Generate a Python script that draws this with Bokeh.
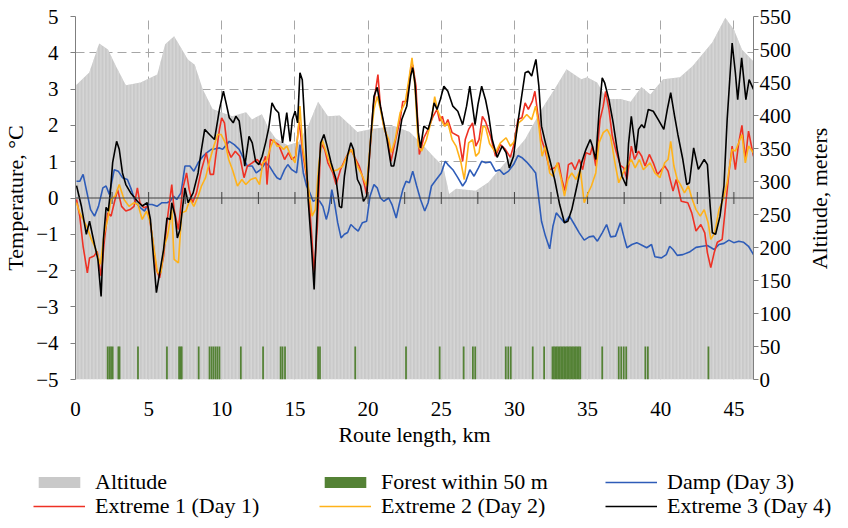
import math
from bokeh.plotting import figure
from bokeh.layouts import column, row
from bokeh.models import (Range1d, LinearAxis, FixedTicker, Span, Legend, LegendItem, Title)
from bokeh.embed import file_html
from bokeh.resources import INLINE

# ---------------- data ----------------
alt_km = [0.0, 0.94, 1.62, 2.22, 2.76, 3.44, 4.45, 5.59, 6.13, 6.74, 7.28, 7.68, 8.15, 8.69,
          9.37, 10.71, 11.66, 12.06, 12.74, 13.21, 13.68, 14.5, 15.23, 15.9, 16.58, 17.25,
          18.06, 19.27, 20.15, 21.77, 22.84, 23.79, 24.46, 25.13, 25.54, 26.01, 27.36, 28.23,
          29.58, 30.73, 31.87, 32.75, 33.56, 34.57, 34.97, 35.65, 36.32, 37.26, 37.94, 38.68,
          39.29, 40.16, 41.31, 42.18, 43.53, 44.41, 45.01, 45.55, 46.34]
alt_m = [445, 465, 509, 500, 475, 446, 450, 462, 508, 520, 500, 485, 477, 440,
         410, 399, 405, 394, 402, 380, 365, 355, 360, 384, 421, 399,
         400, 375, 379, 384, 375, 354, 338, 323, 281, 289, 286, 299,
         334, 364, 410, 440, 470, 455, 458, 450, 425, 425, 421, 443,
         432, 455, 458, 475, 511, 548, 530, 500, 482]

forest_km = [2.20, 2.32, 2.43, 2.54, 2.93, 3.01, 4.27, 6.25, 7.08, 7.18, 7.26, 8.42, 9.16,
             9.30, 9.43, 9.57, 9.70, 9.84, 11.30, 12.82, 14.02, 14.15, 14.32, 16.58, 16.71,
             19.12, 22.59, 24.89, 26.53, 27.16, 27.32, 29.41, 29.58, 29.75, 31.25, 32.03,
             32.60, 32.70, 32.80, 32.90, 33.00, 33.10, 33.20, 33.30, 33.40, 33.50, 33.60,
             33.70, 33.80, 33.90, 34.00, 34.10, 34.20, 34.30, 34.40, 34.50,
             36.00, 37.13, 37.30, 37.47, 37.64, 38.95, 39.12, 43.26]
forest_top = 50

damp_km = [0.07, 0.29, 0.52, 0.74, 1.03, 1.30, 1.57, 1.87, 2.09, 2.31, 2.65, 2.92, 3.21, 3.55,
           3.82, 4.11, 4.45, 4.72, 4.94, 5.24, 5.57, 5.91, 6.25, 6.47, 6.69, 6.92, 7.21, 7.48,
           7.82, 8.09, 8.38, 8.71, 8.98, 9.28, 9.50, 9.84, 10.06, 10.51, 10.85, 11.19, 11.52,
           11.75, 12.08, 12.35, 12.65, 12.99, 13.25, 13.54, 13.77, 14.00, 14.29, 14.51, 14.78,
           15.11, 15.34, 15.57, 15.79, 16.02, 16.24, 16.46, 16.69, 16.91, 17.14, 17.30, 17.52,
           17.70, 17.92, 18.15, 18.38, 18.60, 18.82, 19.05, 19.32, 19.61, 19.90, 20.13, 20.40,
           20.62, 20.84, 21.07, 21.41, 21.63, 21.92, 22.15, 22.37, 22.59, 22.82, 23.05, 23.32,
           23.58, 23.87, 24.10, 24.33, 24.66, 25.00, 25.27, 25.45, 25.79, 26.13, 26.46, 26.68,
           26.95, 27.24, 27.54, 27.76, 28.03, 28.37, 28.71, 28.98, 29.27, 29.60, 29.94, 30.24,
           30.55, 30.84, 31.18, 31.45, 31.67, 31.85, 32.12, 32.41, 32.63, 32.86, 33.15, 33.42,
           33.76, 34.10, 34.43, 34.77, 35.11, 35.40, 35.67, 36.00, 36.30, 36.57, 36.91, 37.24,
           37.47, 37.69, 38.03, 38.36, 38.75, 39.04, 39.37, 39.60, 40.05, 40.38, 40.61, 40.84,
           41.13, 41.51, 41.96, 42.41, 42.86, 43.19, 43.65, 43.98, 44.32, 44.66, 44.99, 45.33,
           45.67, 46.00, 46.34]
damp_t = [0.46, 0.46, 0.65, 0.23, -0.32, -0.50, -0.23, 0.28, 0.33, 0.10, 0.78, 0.74, 0.56, 0.51,
          0.23, -0.13, -0.27, -0.36, -0.18, -0.18, -0.23, -0.13, -0.13, -0.09, 0.05, -0.04, 0.14, 0.88,
          0.88, 0.74, 0.97, 1.15, 1.25, 1.34, 1.35, 1.38, 1.34, 1.56, 1.47, 1.34, 1.06,
          0.88, 0.88, 0.69, 0.78, 0.97, 0.88, 0.69, 0.56, 0.51, 0.78, 0.92, 0.78,
          0.69, 1.47, 0.69, 0.33, 0.14, -0.09, -0.04, -0.09, -0.23, -0.59, -0.36, 0.23,
          -0.13, -0.68, -1.10, -1.00, -0.95, -0.73, -0.82, -0.91, -0.68, -0.64, 0.05, 0.37,
          0.28, 0.00, -0.09, 0.00, -0.18, -0.55, -0.13, 0.23, 0.46, 0.42, 0.74, 0.33,
          -0.04, -0.36, -0.13, 0.33, 0.51, 0.69, 1.01, 0.92, 0.78, 0.56, 0.33, 0.46,
          0.78, 0.60, 0.83, 1.01, 0.97, 0.99, 0.74, 0.78, 0.65, 0.74, 0.92, 1.17,
          1.10, 0.99, 0.83, 0.69, -0.04, -0.64, -1.05, -1.40, -0.78, -0.41, -0.55, -0.68,
          -0.50, -0.73, -0.96, -1.16, -1.07, -1.05, -1.19, -0.96, -0.73, -1.07, -1.05, -0.68,
          -1.05, -1.37, -1.28, -1.23, -1.31, -1.37, -1.28, -1.62, -1.65, -1.56, -1.33, -1.42,
          -1.58, -1.56, -1.49, -1.36, -1.33, -1.31, -1.42, -1.28, -1.25, -1.16, -1.23, -1.19,
          -1.22, -1.33, -1.56]

ext1_km = [0.07, 0.29, 0.52, 0.81, 0.96, 1.26, 1.48, 1.75, 1.97, 2.20, 2.43, 2.65, 2.88, 3.15,
           3.44, 3.73, 4.00, 4.23, 4.40, 4.67, 4.94, 5.24, 5.53, 5.75, 6.02, 6.25, 6.42, 6.58,
           6.74, 7.03, 7.32, 7.59, 7.77, 8.00, 8.27, 8.61, 8.94, 9.21, 9.43, 9.62, 9.84, 9.99,
           10.18, 10.40, 10.63, 10.92, 11.23, 11.52, 11.75, 12.08, 12.42, 12.76, 12.99, 13.09,
           13.32, 13.54, 13.88, 14.06, 14.29, 14.56, 14.78, 15.05, 15.28, 15.57, 15.90, 16.13,
           16.31, 16.53, 16.76, 17.03, 17.25, 17.59, 17.81, 18.11, 18.42, 18.60, 18.82, 19.05,
           19.39, 19.61, 19.90, 20.13, 20.35, 20.67, 20.84, 21.07, 21.34, 21.56, 21.85, 22.19,
           22.37, 22.64, 22.91, 23.05, 23.27, 23.50, 23.81, 24.10, 24.44, 24.71, 24.89, 25.07,
           25.25, 25.45, 25.74, 26.19, 26.46, 26.64, 26.87, 27.14, 27.36, 27.58, 27.81, 28.03,
           28.37, 28.71, 29.04, 29.38, 29.72, 29.94, 30.24, 30.51, 30.73, 30.95, 31.22, 31.40,
           31.62, 31.85, 32.08, 32.41, 32.75, 33.02, 33.24, 33.47, 33.69, 33.92, 34.14, 34.43,
           34.66, 34.89, 35.18, 35.33, 35.56, 35.85, 36.07, 36.23, 36.46, 36.69, 36.97, 37.24,
           37.47, 37.69, 37.99, 38.21, 38.48, 38.70, 38.93, 39.22, 39.49, 39.78, 40.05, 40.27,
           40.50, 40.84, 41.06, 41.40, 41.85, 42.12, 42.41, 42.74, 43.01, 43.19, 43.42, 43.65,
           43.87, 44.20, 44.43, 44.66, 44.88, 45.10, 45.33, 45.55, 45.78, 46.00, 46.34]
ext1_t = [-0.04, -0.50, -1.33, -2.06, -1.65, -1.60, -1.47, -2.15, -1.19, -0.41, -0.50, -0.13, 0.23, -0.23,
          -0.36, -0.32, -0.23, 0.28, -0.13, -0.27, -0.23, -1.05, -1.97, -2.20, -1.60, -0.68, -0.13, 0.37,
          -0.32, -0.87, 0.23, 0.69, 0.23, -0.13, 0.14, 0.78, 1.25, 0.65, 0.65, 1.25, 1.89, 2.21,
          2.07, 1.34, 1.12, 1.29, 1.15, 0.56, 0.88, 0.97, 1.06, 0.88, 1.15, 0.37,
          1.61, 1.56, 1.47, 1.29, 1.06, 1.25, 1.06, 1.15, 2.10, 1.15, 0.33, -0.96,
          -2.06, -0.78, 1.52, 1.34, 0.97, 0.69, 0.37, 0.78, 1.06, 1.20, 1.34, 1.15,
          0.88, 0.60, 0.10, 1.34, 2.53, 3.40, 2.53, 1.98, 1.61, 1.01, 1.56, 2.16,
          2.66, 2.66, 3.53, 3.67, 3.08, 1.20, 1.66, 1.89, 2.25, 2.44, 2.12, 2.25,
          1.98, 2.16, 1.80, 1.70, 1.01, 1.61, 1.89, 2.07, 1.43, 1.61, 2.25, 2.10,
          1.70, 1.15, 1.47, 1.34, 1.12, 1.43, 2.16, 2.21, 2.62, 2.44, 2.66, 2.94,
          2.25, 1.61, 1.34, 0.78, 0.83, 0.97, 0.51, 0.19, 0.92, 0.97, 0.78, 1.06,
          0.78, 1.25, 1.20, 1.43, 0.88, 2.16, 2.53, 2.94, 2.44, 1.70, 1.25, 0.90,
          0.83, 0.51, 1.43, 1.06, 1.29, 1.15, 0.88, 1.20, 0.97, 0.65, 0.78, 0.88,
          0.74, 0.19, 0.51, -0.09, -0.13, -0.41, -0.91, -0.73, -0.96, -1.51, -1.92, -1.51,
          -1.22, -1.14, -0.23, 0.69, 1.43, 0.78, 1.52, 2.00, 1.06, 1.84, 1.15]

ext2_km = [0.07, 0.29, 0.52, 0.81, 1.08, 1.35, 1.70, 1.97, 2.20, 2.43, 2.70, 2.99, 3.32, 3.66,
           4.00, 4.27, 4.56, 4.85, 5.12, 5.34, 5.61, 5.84, 6.06, 6.29, 6.58, 6.74, 7.03, 7.26,
           7.55, 7.82, 8.09, 8.38, 8.61, 8.89, 9.16, 9.43, 9.72, 9.95, 10.24, 10.47, 10.73,
           11.07, 11.37, 11.64, 11.97, 12.31, 12.58, 12.80, 13.09, 13.32, 13.54, 13.77, 13.99,
           14.22, 14.44, 14.74, 15.01, 15.23, 15.34, 15.52, 15.79, 16.02, 16.17, 16.39, 16.64,
           16.85, 17.07, 17.30, 17.59, 17.92, 18.26, 18.55, 18.87, 19.27, 19.61, 19.90, 20.17,
           20.40, 20.62, 20.84, 21.11, 21.41, 21.58, 21.85, 22.19, 22.53, 22.82, 23.00, 23.20,
           23.43, 23.65, 23.99, 24.33, 24.55, 24.73, 25.00, 25.22, 25.45, 25.74, 26.01, 26.35,
           26.57, 26.87, 27.14, 27.36, 27.58, 27.85, 28.03, 28.30, 28.71, 29.04, 29.43, 29.72,
           30.01, 30.28, 30.55, 30.84, 31.18, 31.45, 31.67, 31.89, 32.12, 32.41, 32.63, 32.93,
           33.20, 33.42, 33.65, 33.92, 34.21, 34.50, 34.77, 35.04, 35.26, 35.56, 35.78, 36.07,
           36.34, 36.57, 36.91, 37.13, 37.42, 37.69, 37.99, 38.25, 38.54, 38.81, 39.27, 39.60,
           39.94, 40.27, 40.50, 40.68, 40.90, 41.13, 41.35, 41.62, 41.89, 42.12, 42.41, 42.70,
           42.97, 43.24, 43.42, 43.69, 43.98, 44.27, 44.54, 44.88, 45.10, 45.33, 45.55, 45.78,
           46.00, 46.34]
ext2_t = [-0.13, -0.41, -0.59, -0.82, -1.14, -1.37, -1.83, -0.96, -0.59, -0.04, 0.05, 0.37, -0.04, -0.23,
          -0.13, -0.18, -0.59, -0.36, -0.68, -1.33, -2.06, -2.06, -1.33, -1.05, -0.32, -1.69, -1.79, -0.41,
          -0.36, -0.04, -0.23, 0.05, 0.33, 0.56, 1.01, 1.40, 1.75, 1.75, 1.52, 1.06, 0.78,
          0.33, 0.51, 0.37, 0.51, 0.56, 0.37, 0.97, 1.06, 1.38, 1.61, 1.43, 1.43,
          1.34, 1.43, 1.15, 0.97, 1.89, 2.53, 1.43, 0.69, -0.04, -0.50, -0.32, 0.97,
          1.61, 1.34, 1.06, 0.74, 0.78, 0.88, 1.15, 1.34, 0.88, 0.60, 0.33, 1.61,
          2.44, 2.80, 2.44, 1.89, 1.61, 1.25, 1.61, 2.35, 2.62, 3.36, 3.86, 3.08,
          1.43, 1.29, 1.61, 2.16, 2.79, 2.44, 2.16, 1.98, 2.07, 1.61, 1.43, 0.97,
          0.51, 1.52, 1.61, 1.15, 1.25, 1.98, 1.95, 1.50, 1.25, 1.52, 1.66, 1.43,
          1.56, 2.07, 2.16, 2.30, 2.16, 2.53, 1.98, 1.15, 1.43, 0.69, 0.60, 0.97,
          0.51, 0.05, 0.51, 0.69, 0.51, 0.78, -0.13, 0.14, 0.33, 0.69, 1.52, 1.80,
          1.89, 1.70, 0.88, 0.42, 0.69, 0.88, 1.06, 0.83, 1.06, 0.78, 0.97, 0.69,
          0.56, 0.97, 1.06, 1.56, 0.88, 0.51, 0.37, 0.14, 0.33, 0.00, -0.32, -0.50,
          -0.32, -0.68, -1.14, -0.96, -0.32, -0.04, 0.42, 1.34, 1.29, 1.52, 1.75, 0.97,
          1.43, 1.24]

ext3_km = [0.07, 0.40, 0.74, 0.96, 1.30, 1.53, 1.75, 1.91, 2.09, 2.24, 2.38, 2.54, 2.81, 2.99,
           3.21, 3.44, 3.77, 4.00, 4.23, 4.56, 4.90, 5.12, 5.34, 5.53, 5.68, 6.02, 6.25, 6.47,
           6.58, 6.81, 6.96, 7.14, 7.48, 7.70, 8.04, 8.38, 8.61, 8.83, 9.16, 9.50, 9.84, 10.11,
           10.29, 10.51, 10.78, 10.96, 11.19, 11.41, 11.57, 11.86, 12.08, 12.31, 12.53, 12.76,
           12.99, 13.21, 13.43, 13.66, 13.88, 14.15, 14.44, 14.67, 14.82, 15.01, 15.18, 15.34,
           15.50, 15.68, 15.90, 16.13, 16.31, 16.46, 16.62, 16.76, 16.98, 17.20, 17.47, 17.81,
           18.04, 18.19, 18.38, 18.60, 18.82, 19.00, 19.27, 19.49, 19.68, 19.90, 20.17, 20.40,
           20.62, 20.84, 21.07, 21.29, 21.58, 21.75, 21.97, 22.30, 22.64, 22.91, 23.05, 23.20,
           23.43, 23.58, 23.81, 24.10, 24.33, 24.51, 24.71, 24.93, 25.18, 25.45, 25.79, 26.13,
           26.46, 26.73, 26.95, 27.31, 27.51, 27.76, 28.03, 28.25, 28.48, 28.82, 29.16, 29.43,
           29.65, 29.94, 30.17, 30.46, 30.73, 30.95, 31.18, 31.47, 31.67, 31.85, 32.12, 32.41,
           32.75, 33.09, 33.42, 33.65, 33.92, 34.32, 34.59, 34.89, 35.18, 35.33, 35.56, 35.78,
           36.00, 36.17, 36.46, 36.75, 37.02, 37.35, 37.65, 37.80, 37.99, 38.30, 38.48, 38.70,
           38.88, 39.15, 39.49, 39.83, 40.21, 40.45, 40.68, 40.95, 41.17, 41.51, 41.78, 41.96,
           42.25, 42.57, 42.97, 43.19, 43.38, 43.53, 43.75, 44.05, 44.32, 44.54, 44.88, 45.10,
           45.26, 45.53, 45.82, 46.04, 46.34]
ext3_t = [0.34, -0.22, -1.00, -0.64, -1.28, -1.69, -2.71, -1.14, -0.26, -0.36, 0.15, 0.98, 1.56, 1.34,
          0.69, 0.37, 0.14, 0.03, -0.09, -0.22, -0.13, -0.59, -1.69, -2.61, -2.24, -1.42, -0.55, -0.59,
          -0.13, -0.50, -1.10, -0.87, 0.28, -0.13, 0.14, 0.69, 1.34, 1.89, 1.75, 1.61, 2.44, 2.94,
          2.62, 2.21, 2.07, 2.25, 2.12, 1.43, 0.88, 1.70, 1.52, 1.01, 0.92, 1.15,
          1.52, 1.93, 2.62, 2.44, 2.35, 1.52, 2.35, 1.56, 2.16, 2.39, 2.07, 3.45,
          3.26, 1.98, -0.04, -1.33, -2.52, -0.96, 0.60, 1.52, 1.75, 1.43, 0.97, 0.51,
          -0.23, -0.27, 0.60, 1.18, 1.52, 1.34, 0.51, 0.33, -0.09, 0.05, 1.61, 2.80,
          3.05, 2.53, 2.07, 1.61, 0.88, 0.88, 1.34, 2.16, 2.53, 3.36, 3.59, 3.17,
          1.80, 1.38, 1.98, 1.89, 2.21, 2.62, 2.44, 2.71, 3.08, 2.94, 2.53, 2.39,
          2.02, 2.53, 3.08, 2.02, 2.58, 3.08, 2.70, 2.25, 1.61, 1.12, 1.43, 1.25,
          0.83, 1.15, 1.89, 2.71, 3.45, 3.49, 3.36, 3.82, 3.08, 1.98, 1.52, 1.06,
          0.51, -0.18, -0.68, -0.64, -0.32, 0.42, 0.97, 1.34, 1.61, 1.43, 1.06, 2.35,
          3.31, 3.17, 2.71, 2.07, 1.34, 0.60, 0.33, 1.50, 2.25, 1.24, 1.89, 2.02,
          1.93, 2.44, 2.39, 2.16, 1.89, 2.44, 2.90, 2.25, 1.75, 1.06, 0.37, 0.42,
          1.38, 0.79, 1.06, 0.92, -0.23, -0.96, -1.00, -0.50, 0.33, 2.16, 4.27, 3.45,
          2.71, 3.86, 2.71, 3.26, 2.99]

temp_ticks = [-5, -4, -3, -2, -1, 0, 1, 2, 3, 4, 5]
alt_ticks = [0, 50, 100, 150, 200, 250, 300, 350, 400, 450, 500, 550]
km_labels = [0, 5, 10, 15, 20, 25, 30, 35, 40, 45]
zero_line_ticks = [0, 2.5, 5, 7.5, 10, 12.5, 15, 17.5, 20, 22.5, 25, 27.5, 30, 32.5, 35,
                   37.5, 40, 42.5, 45]

# ---------------- styles ----------------
FONT = "Liberation Serif"
FS = "21px"      # tick labels
FS_T = "22px"    # titles and legend
RED = "#EE3124"
GOLD = "#FFB21A"
BLUE = "#2E5CB8"
BLACK = "#000000"
GREEN = "#548235"
GRAY = "#C9C9C9"
LW = 1.6

MAIN_W = 804
SIDE_W = 832 - MAIN_W
MAIN_H = 449
LEG_H = 70
TOP = 16
BOT = MAIN_H - TOP - 364


def no_align(fig):
    if "frame_align" in fig.properties():
        fig.frame_align = False


p = figure(width=MAIN_W, height=MAIN_H, x_range=Range1d(0, 46.34), y_range=Range1d(-5, 5),
           output_backend="svg", toolbar_location=None,
           min_border_left=66, min_border_right=MAIN_W - 66 - 687, min_border_top=TOP,
           min_border_bottom=BOT)
p.extra_y_ranges = {"alt": Range1d(0, 550)}
p.outline_line_color = None

# grids
p.xgrid.ticker = FixedTicker(ticks=[5, 10, 15, 20, 25, 30, 35, 40, 45])
p.ygrid.ticker = FixedTicker(ticks=temp_ticks)
for g in (p.xgrid, p.ygrid):
    g.grid_line_color = "#A6A6A6"
    g.grid_line_dash = "9 5"
    g.grid_line_width = 1

# altitude area
p.varea(x=alt_km, y1=[0] * len(alt_km), y2=alt_m, y_range_name="alt",
        fill_color=GRAY, hatch_pattern="vertical_line", hatch_color="#DCDCDC",
        hatch_scale=3.5, hatch_weight=1)

# forest bars
p.vbar(x=forest_km, top=forest_top, bottom=0, width=0.12, y_range_name="alt",
       fill_color=GREEN, line_color=None)

# zero line with crossing ticks
p.add_layout(Span(location=0, dimension="width", line_color="#404040", line_width=1))
p.scatter(x=zero_line_ticks, y=[0] * len(zero_line_ticks), marker="dash", size=12,
          angle=math.pi / 2, line_color="#404040", line_width=1)

p.line(damp_km, damp_t, line_color=BLUE, line_width=LW)
p.line(ext1_km, ext1_t, line_color=RED, line_width=LW)
p.line(ext2_km, ext2_t, line_color=GOLD, line_width=LW)
p.line(ext3_km, ext3_t, line_color=BLACK, line_width=LW)

# axes
p.yaxis.ticker = FixedTicker(ticks=temp_ticks)
p.yaxis.axis_label = "Temperature, °C"
p.xaxis.ticker = FixedTicker(ticks=km_labels)
p.xaxis.axis_label = "Route length, km"
p.xaxis.axis_line_color = None
p.xaxis.major_tick_line_color = None
p.xaxis.minor_tick_line_color = None
p.xaxis.major_label_standoff = 16
p.xaxis.axis_label_standoff = 3

yr = LinearAxis(y_range_name="alt", ticker=FixedTicker(ticks=alt_ticks))
p.add_layout(yr, "right")

for ax in (p.yaxis[0], yr):
    ax.axis_line_color = "#7F7F7F"
    ax.major_tick_line_color = "#7F7F7F"
    ax.minor_tick_line_color = None
    ax.major_tick_in = 0
    ax.major_tick_out = 5
p.yaxis.major_label_standoff = 12
p.yaxis.axis_label_standoff = 5
yr.major_label_standoff = 1

for ax in (p.xaxis[0], p.yaxis[0], yr):
    ax.major_label_text_font = FONT
    ax.major_label_text_font_size = FS
    ax.major_label_text_color = "black"
    ax.axis_label_text_font = FONT
    ax.axis_label_text_font_size = FS_T
    ax.axis_label_text_font_style = "normal"
    ax.axis_label_text_color = "black"

# ---------------- right-hand axis title strip ----------------
side = figure(width=SIDE_W, height=MAIN_H, x_range=Range1d(0, 1), y_range=Range1d(0, 1),
              output_backend="svg", toolbar_location=None, x_axis_type=None, y_axis_type=None,
              min_border_left=0, min_border_right=0, min_border_top=TOP, min_border_bottom=BOT)
side.outline_line_color = None
side.grid.visible = False
no_align(side)
side.add_layout(Title(text="Altitude, meters", align="center", text_font=FONT,
                      text_font_size=FS_T, text_font_style="normal", text_color="black",
                      standoff=0, offset=0), "left")

# ---------------- legend strip ----------------
lf = figure(width=832, height=LEG_H, x_range=Range1d(0, 46.34), y_range=Range1d(1000, 1001),
            output_backend="svg", toolbar_location=None, x_axis_type=None, y_axis_type=None,
            min_border_left=0, min_border_right=0, min_border_top=0, min_border_bottom=0)
lf.outline_line_color = None
lf.grid.visible = False
no_align(lf)

# same series drawn in the strip (outside its visible range) so the legend can show them
g_alt = lf.varea(x=alt_km, y1=[0] * len(alt_km), y2=alt_m, fill_color=GRAY)
g_for = lf.varea(x=forest_km, y1=[0] * len(forest_km), y2=[forest_top] * len(forest_km),
                 fill_color=GREEN)
g_damp = lf.line(damp_km, damp_t, line_color=BLUE, line_width=LW)
g_e1 = lf.line(ext1_km, ext1_t, line_color=RED, line_width=LW)
g_e2 = lf.line(ext2_km, ext2_t, line_color=GOLD, line_width=LW)
g_e3 = lf.line(ext3_km, ext3_t, line_color=BLACK, line_width=LW)


def make_legend(items, loc):
    return Legend(items=items, orientation="horizontal", location=loc,
                  glyph_width=52, glyph_height=14, label_standoff=10, label_width=224,
                  label_height=22, spacing=0, padding=0, margin=0, border_line_color=None,
                  background_fill_alpha=0, label_text_font=FONT, label_text_font_size=FS_T,
                  label_text_color="black")


lg1 = make_legend([LegendItem(label="Altitude", renderers=[g_alt]),
                   LegendItem(label="Forest within 50 m", renderers=[g_for]),
                   LegendItem(label="Damp (Day 3)", renderers=[g_damp])], (33, 24))
lg2 = make_legend([LegendItem(label="Extreme 1 (Day 1)", renderers=[g_e1]),
                   LegendItem(label="Extreme 2 (Day 2)", renderers=[g_e2]),
                   LegendItem(label="Extreme 3 (Day 4)", renderers=[g_e3])], (33, 0))
lf.add_layout(lg1, "center")
lf.add_layout(lg2, "center")

layout = column(row(p, side), lf)
open("out.html", "w").write(file_html(layout, INLINE))
